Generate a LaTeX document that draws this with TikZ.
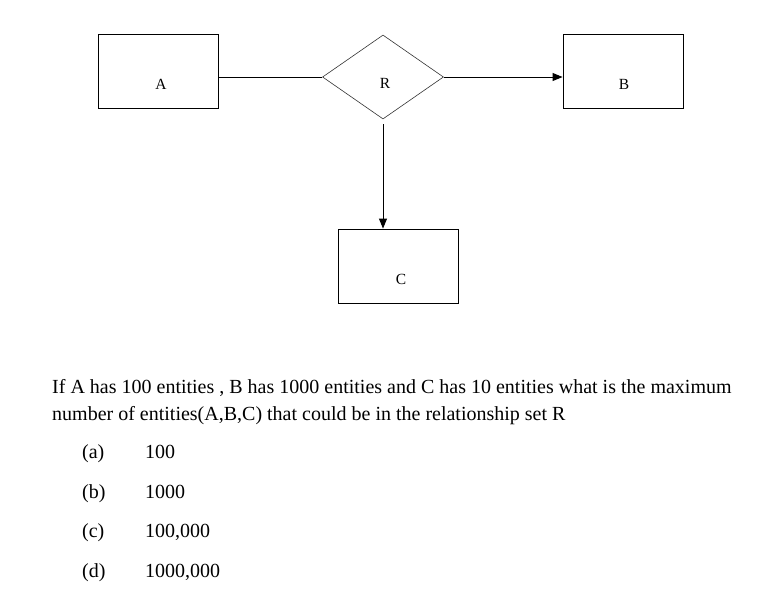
\documentclass[tikz,border=0pt]{standalone}
\usepackage{fontspec}
\setmainfont{Liberation Serif}
\usetikzlibrary{shapes.geometric, arrows.meta, positioning}

\begin{document}
\begin{tikzpicture}[
  x=1pt, y=-1pt,
  entity/.style={draw, line width=0.9pt, minimum width=120pt, minimum height=74pt, inner sep=0pt},
  relation/.style={diamond, draw=black!80, line width=0.6pt, minimum width=121pt, minimum height=84pt, inner sep=0pt},
  lbl/.style={font=\fontsize{15.5}{17}\selectfont, inner sep=0pt},
  qtext/.style={font=\fontsize{20}{27}\selectfont, anchor=base west, inner sep=0pt, align=left},
  conn/.style={line width=0.9pt},
  arr/.style={conn, -{Triangle[length=10pt, width=8pt]}}
]
  \useasboundingbox (0,0) rectangle (759,598);
  % diagram
  \node[entity] (entA) at (158,71) {};
  \node[relation] (rel) at (383,77) {};
  \node[entity] (entB) at (623,71) {};
  \node[entity] (entC) at (398,266) {};
  \node[lbl] (labA) at (161,84) {A};
  \node[lbl] (labR) at (385,83) {R};
  \node[lbl] (labB) at (624,84) {B};
  \node[lbl] (labC) at (401,279) {C};
  \draw[conn] (entA.east |- rel.west) -- (rel.west);
  \draw[arr] (rel.east) -- (rel.east -| entB.west);
  \draw[arr, shorten <=5pt] (rel.south) -- (rel.south |- entC.north);
  % question (anchored on the baseline of its last line)
  \node[qtext] (qline) at (52,420) {If A has 100 entities , B has 1000 entities and C has 10 entities what is the maximum\\number of entities(A,B,C) that could be in the relationship set R};
  \node[qtext] (optA) at (82,458) {(a)};
  \node[qtext] (valA) at (145,458) {100};
  \node[qtext] (optB) at (82,498) {(b)};
  \node[qtext] (valB) at (145,498) {1000};
  \node[qtext] (optC) at (82,537) {(c)};
  \node[qtext] (valC) at (145,537) {100,000};
  \node[qtext] (optD) at (82,577) {(d)};
  \node[qtext] (valD) at (145,577) {1000,000};
\end{tikzpicture}
\end{document}
